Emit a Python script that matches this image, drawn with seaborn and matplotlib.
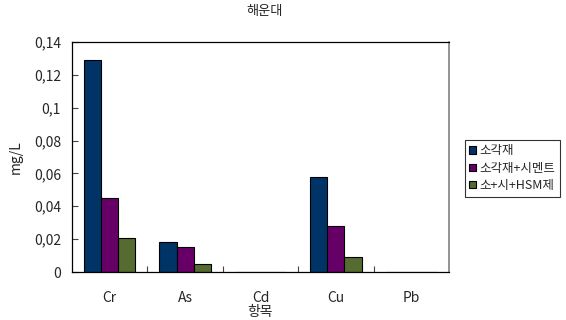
import matplotlib
matplotlib.use("Agg")
import matplotlib.pyplot as plt
import matplotlib.ticker as mticker
import seaborn as sns
import pandas as pd

categories = ["Cr", "As", "Cd", "Cu", "Pb"]
series_names = ["소각재", "소각재+시멘트", "소+시+HSM제"]
incinerated = [0.129, 0.018, 0.0, 0.058, 0.0]
with_cement = [0.045, 0.015, 0.0, 0.028, 0.0]
with_hsm = [0.021, 0.005, 0.0, 0.009, 0.0]
colors = ["#003366", "#660066", "#556B2F"]

rows = []
for name, vals in zip(series_names, [incinerated, with_cement, with_hsm]):
    for c, v in zip(categories, vals):
        rows.append({"항목": c, "series": name, "value": v})
df = pd.DataFrame(rows)

sns.set_style("white")
plt.rcParams["font.family"] = ["Noto Sans CJK KR", "DejaVu Sans"]

fig = plt.figure(figsize=(5.66, 3.2), dpi=100)
ax = fig.add_axes([72 / 566, 48 / 320, 377 / 566, 230 / 320])

sns.barplot(data=df, x="항목", y="value", hue="series", palette=colors,
            width=0.68, edgecolor="black", linewidth=0.8, saturation=1,
            ax=ax, legend=True)

ax.set_ylim(0, 0.14)
ax.set_xlim(-0.5, 4.5)
ax.yaxis.set_major_locator(mticker.MultipleLocator(0.02))
ax.yaxis.set_major_formatter(mticker.FuncFormatter(
    lambda v, p: "0" if abs(v) < 1e-12 else f"{v:.2f}".rstrip("0").replace(".", ",")))
ax.tick_params(axis="y", left=True, direction="in", length=4, width=0.8,
               labelsize=10, pad=8, color="#444444")
ax.tick_params(axis="x", which="major", bottom=False, length=0, labelsize=10, pad=14)
ax.set_xticks([0.5, 1.5, 2.5, 3.5], minor=True)
ax.tick_params(axis="x", which="minor", bottom=True, direction="in", length=4,
               width=0.8, color="#444444")

for s in ax.spines.values():
    s.set_color("black")
    s.set_linewidth(0.9)
ax.spines["right"].set_color("#808080")
ax.spines["right"].set_linewidth(1.2)

ax.set_ylabel("mg/L", fontsize=10, labelpad=8)
ax.set_xlabel("항목", fontsize=10, labelpad=0)

fig.text(265 / 566, 1 - 12 / 320, "해운대", ha="center", va="center", fontsize=9.5)

handles, labels = ax.get_legend_handles_labels()
ax.legend(handles, labels, loc="upper left", bbox_to_anchor=(465 / 566, 1 - 140 / 320),
          bbox_transform=fig.transFigure, fontsize=9, frameon=True, fancybox=False,
          edgecolor="black", handlelength=0.5, handleheight=0.5, handletextpad=0.3,
          borderpad=0.35, labelspacing=0.35, borderaxespad=0)
leg = ax.get_legend()
leg.get_frame().set_linewidth(0.8)

fig.savefig("out.png", dpi=100)
